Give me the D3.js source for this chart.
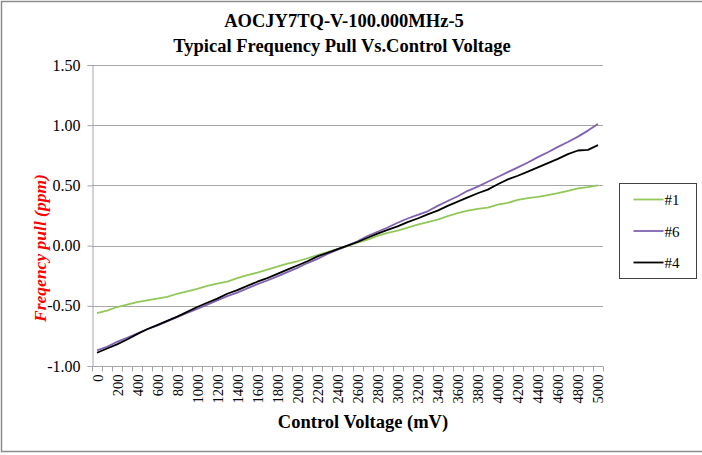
<!DOCTYPE html>
<html>
<head>
<meta charset="utf-8">
<script src="https://cdn.jsdelivr.net/npm/d3@7"></script>
<style>
  body { margin: 0; background: #fff; }
  text { font-family: 'Liberation Serif', 'Times New Roman', serif; }
</style>
</head>
<body>
<div id="chart"></div>
<script>
// Control voltage categories, 0..5000 mV in 100 mV steps
const voltages = [
  0, 100, 200, 300, 400, 500, 600, 700, 800, 900,
  1000, 1100, 1200, 1300, 1400, 1500, 1600, 1700, 1800, 1900,
  2000, 2100, 2200, 2300, 2400, 2500, 2600, 2700, 2800, 2900,
  3000, 3100, 3200, 3300, 3400, 3500, 3600, 3700, 3800, 3900,
  4000, 4100, 4200, 4300, 4400, 4500, 4600, 4700, 4800, 4900, 5000
];

// Frequency pull (ppm)
const unit1 = [
  -0.56, -0.54, -0.51, -0.49, -0.47, -0.455, -0.44, -0.425, -0.40, -0.38,
  -0.36, -0.335, -0.315, -0.30, -0.27, -0.245, -0.225, -0.20, -0.175, -0.15,
  -0.13, -0.105, -0.08, -0.055, -0.03, -0.005, 0.025, 0.05, 0.08, 0.105,
  0.125, 0.15, 0.175, 0.195, 0.215, 0.245, 0.27, 0.29, 0.305, 0.315,
  0.34, 0.355, 0.38, 0.395, 0.405, 0.42, 0.435, 0.455, 0.475, 0.485, 0.50
];
const unit6 = [
  -0.87, -0.84, -0.80, -0.765, -0.73, -0.695, -0.665, -0.63, -0.595, -0.56,
  -0.525, -0.49, -0.455, -0.42, -0.39, -0.355, -0.32, -0.29, -0.255, -0.22,
  -0.185, -0.145, -0.11, -0.07, -0.035, 0.00, 0.035, 0.08, 0.115, 0.15,
  0.19, 0.225, 0.255, 0.285, 0.33, 0.37, 0.41, 0.455, 0.49, 0.53,
  0.57, 0.61, 0.65, 0.69, 0.735, 0.775, 0.82, 0.86, 0.905, 0.955, 1.01
];
const unit4 = [
  -0.89, -0.855, -0.82, -0.78, -0.735, -0.695, -0.66, -0.625, -0.59, -0.55,
  -0.51, -0.475, -0.44, -0.40, -0.37, -0.335, -0.30, -0.27, -0.235, -0.20,
  -0.165, -0.13, -0.09, -0.06, -0.03, 0.00, 0.03, 0.065, 0.10, 0.13,
  0.16, 0.195, 0.225, 0.26, 0.29, 0.33, 0.365, 0.40, 0.435, 0.465,
  0.51, 0.55, 0.58, 0.615, 0.65, 0.685, 0.72, 0.76, 0.79, 0.795, 0.835
];

const seriesNames = ['#1', '#6', '#4'];
const seriesColors = ['#92c85a', '#8062b0', '#000000'];
const yTicks = [-1.0, -0.5, 0.0, 0.5, 1.0, 1.5];

const series = [unit1, unit6, unit4].map((vals, i) => ({
  name: seriesNames[i],
  color: seriesColors[i],
  values: vals.map((v, j) => ({ mv: voltages[j], v: v }))
}));

const W = 702, H = 455;
const margin = { top: 65, right: 99, bottom: 89, left: 92 };
const width = W - margin.left - margin.right,
  height = H - margin.top - margin.bottom;

const root = d3.select('#chart').append('svg')
  .attr('width', W).attr('height', H);

// Outer chart border
root.append('path')
  .attr('d', 'M703,1.5 H1.5 V451.5 H703')
  .attr('fill', 'none').attr('stroke', '#8c8c8c').attr('stroke-width', 1.5);

// Titles
root.append('text').attr('x', 344).attr('y', 27)
  .attr('text-anchor', 'middle').style('font-size', '18.5px').style('font-weight', 'bold')
  .text('AOCJY7TQ-V-100.000MHz-5');
root.append('text').attr('x', 342).attr('y', 52)
  .attr('text-anchor', 'middle').style('font-size', '18.5px').style('font-weight', 'bold')
  .text('Typical Frequency Pull Vs.Control Voltage');

const svg = root.append('g')
  .attr('transform', 'translate(' + margin.left + ',' + margin.top + ')');

// X: category axis, points in the middle of each band
const x = d3.scaleBand().domain(voltages).range([0, width]);
const y = d3.scaleLinear().domain([-1, 1.5]).range([height, 0]);

// Gridlines
svg.append('g').selectAll('line')
  .data(yTicks.filter((t) => t > -1))
  .enter().append('line')
  .attr('x1', 0).attr('x2', width)
  .attr('y1', (d) => Math.round(y(d)) + 0.5).attr('y2', (d) => Math.round(y(d)) + 0.5)
  .attr('stroke', '#a6a6a6').attr('stroke-width', 1);

// Y axis
const yAxis = svg.append('g')
  .attr('transform', 'translate(0.5,0)')
  .call(d3.axisLeft(y).tickValues(yTicks).tickSize(5).tickPadding(7));
yAxis.select('.domain').attr('stroke', '#a6a6a6');
yAxis.selectAll('.tick line').attr('stroke', '#a6a6a6');
yAxis.selectAll('.tick text').style('font-size', '16px').attr('fill', '#000')
  .style('font-family', "'Liberation Serif', serif")
  .text((d) => d < 0 ? '-' + d3.format('.2f')(-d) : d3.format('.2f')(d));

// X axis: tick marks between categories, labels every 200 mV
const xAxis = svg.append('g').attr('transform', 'translate(0,' + (height + 0.5) + ')');
xAxis.append('line').attr('x1', 0).attr('x2', width)
  .attr('stroke', '#a6a6a6');
xAxis.selectAll('.tk')
  .data(voltages.concat([null]))
  .enter().append('line')
  .attr('x1', (d, i) => Math.round(i * x.step()) + 0.5)
  .attr('x2', (d, i) => Math.round(i * x.step()) + 0.5)
  .attr('y1', 0).attr('y2', 5)
  .attr('stroke', '#a6a6a6');
xAxis.selectAll('.lbl')
  .data(voltages.filter((v) => v % 200 === 0))
  .enter().append('text')
  .attr('transform', (d) => 'translate(' + (x(d) + x.bandwidth() / 2 + 5.5) + ',8) rotate(-90)')
  .attr('text-anchor', 'end')
  .style('font-size', '14.5px')
  .text((d) => d);

// X title
root.append('text').attr('x', 363).attr('y', 428)
  .attr('text-anchor', 'middle').style('font-size', '18.5px').style('font-weight', 'bold')
  .text('Control Voltage (mV)');

// Y title
root.append('text')
  .attr('transform', 'translate(46,248) rotate(-90)')
  .attr('text-anchor', 'middle').attr('fill', '#ff0000')
  .style('font-size', '17.5px').style('font-weight', 'bold').style('font-style', 'italic')
  .text('Freqency pull (ppm)');

// Lines
const line = d3.line()
  .x((d) => x(d.mv) + x.bandwidth() / 2)
  .y((d) => y(d.v));
svg.selectAll('.series')
  .data(series)
  .enter().append('path')
  .attr('fill', 'none')
  .attr('stroke', (d) => d.color)
  .attr('stroke-width', 1.8)
  .attr('stroke-linejoin', 'round')
  .attr('d', (d) => line(d.values));

// Legend
const legend = root.append('g').attr('transform', 'translate(619.5,183.5)');
legend.append('rect').attr('width', 77).attr('height', 95)
  .attr('fill', '#fff').attr('stroke', '#404040').attr('stroke-width', 1);
const item = legend.selectAll('.item')
  .data(series)
  .enter().append('g')
  .attr('transform', (d, i) => 'translate(0,' + (16 + i * 31.5) + ')');
item.append('line').attr('x1', 14).attr('x2', 44)
  .attr('stroke', (d) => d.color).attr('stroke-width', 1.8);
item.append('text').attr('x', 45).attr('y', 5.5)
  .style('font-size', '15px')
  .text((d) => d.name);
</script>
</body>
</html>
